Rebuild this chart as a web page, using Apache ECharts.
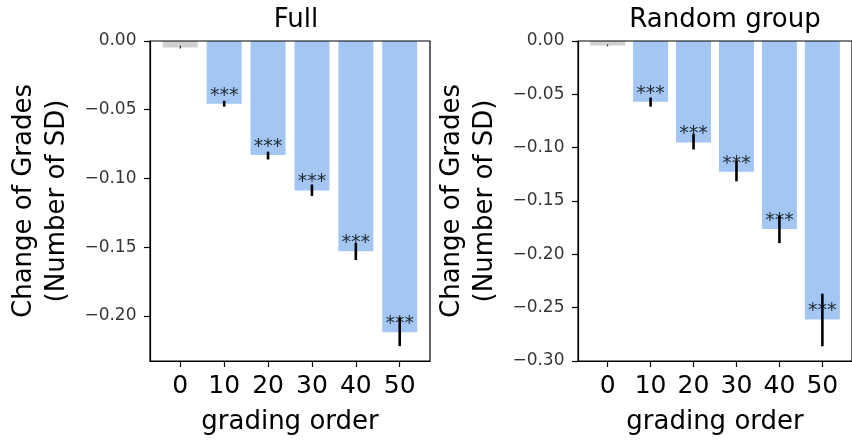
<!DOCTYPE html>
<html>
<head>
<meta charset="utf-8">
<script src="https://cdn.jsdelivr.net/npm/echarts@6/dist/echarts.min.js"></script>
<style>
  html, body { margin: 0; padding: 0; background: #fff; }
  #chart { width: 852px; height: 440px; }
</style>
</head>
<body>
<div id="chart"></div>
<script>
// grading order (x categories)
let order = [0, 10, 20, 30, 40, 50]
let stars = ['', '***', '***', '***', '***', '***']

// Full sample: mean and error bar ends
let fullMean = [-0.0048, -0.0456, -0.0829, -0.1087, -0.1530, -0.2118]
let fullLow = [-0.0055, -0.0477, -0.0862, -0.1127, -0.1593, -0.2220]
let fullHigh = [-0.0035, -0.0435, -0.0805, -0.1044, -0.1469, -0.2010]

// Random group: mean and error bar ends
let randMean = [-0.0043, -0.0570, -0.0952, -0.1226, -0.1762, -0.2610]
let randLow = [-0.0050, -0.0616, -0.1017, -0.1315, -0.1895, -0.2862]
let randHigh = [-0.0033, -0.0530, -0.0869, -0.1124, -0.1639, -0.2369]

// tick labels
let fullTicks = [0, -0.05, -0.10, -0.15, -0.20]
let randTicks = [0, -0.05, -0.10, -0.15, -0.20, -0.25, -0.30]

const FONT = 'DejaVu Sans'
const BLUE = '#a3c7f2'
const GREY = '#d0d0d0'
const X_MIN = -6.9
const X_MAX = 56.9

let myChart = echarts.init(document.getElementById('chart'))

function fmtY(v) {
  if (Math.abs(v) < 1e-9) return '0.00'
  return (v < 0 ? '\u2212' : '') + Math.abs(v).toFixed(2)
}

function xAxis(gi) {
  return {
    type: 'value', gridIndex: gi, min: X_MIN, max: X_MAX,
    name: 'grading order', nameLocation: 'middle', nameGap: 48,
    nameTextStyle: { fontFamily: FONT, fontSize: 26, color: '#000' },
    axisLine: { show: true, onZero: false, lineStyle: { color: '#000', width: 1.2 } },
    axisTick: { show: true, length: 6, customValues: order, lineStyle: { color: '#000', width: 1.2 } },
    axisLabel: { customValues: order, margin: 13, fontFamily: FONT, fontSize: 25, color: '#000' },
    splitLine: { show: false }
  }
}

function yAxis(gi, min, ticks) {
  return {
    type: 'value', gridIndex: gi, min: min, max: 0,
    name: 'Change of Grades\n(Number of SD)', nameLocation: 'middle', nameGap: 76,
    nameTextStyle: { fontFamily: FONT, fontSize: 26, color: '#000', lineHeight: 33 },
    axisLine: { show: true, onZero: false, lineStyle: { color: '#000', width: 1.2 } },
    axisTick: { show: true, length: 6, customValues: ticks, lineStyle: { color: '#000', width: 1.2 } },
    axisLabel: { show: false },
    splitLine: { show: false }
  }
}

function panelSeries(ax, mean, low, high, ticks) {
  return [
    {
      type: 'bar', xAxisIndex: ax, yAxisIndex: ax, barWidth: 35,
      data: order.map((o, i) => [o, mean[i]]),
      itemStyle: { color: p => p.dataIndex === 0 ? GREY : BLUE },
      silent: true
    },
    {
      type: 'custom', xAxisIndex: ax, yAxisIndex: ax, z: 3,
      data: order.map((o, i) => [o, low[i], high[i]]),
      encode: { x: 0, y: [1, 2] },
      renderItem: function (params, api) {
        let x = api.value(0)
        let p1 = api.coord([x, api.value(1)])
        let p2 = api.coord([x, api.value(2)])
        return {
          type: 'line',
          shape: { x1: p1[0], y1: p1[1], x2: p2[0], y2: p2[1] },
          style: { stroke: '#000', lineWidth: params.dataIndex === 0 ? 1 : 2.6 }
        }
      },
      silent: true
    },
    {
      // 显著性星号
      type: 'scatter', xAxisIndex: ax, yAxisIndex: ax, z: 4,
      symbolSize: 1, itemStyle: { color: 'rgba(0,0,0,0)' },
      data: order.map((o, i) => [o, mean[i]]),
      label: {
        show: true, position: 'inside', offset: [0, -8],
        fontFamily: FONT, fontSize: 19, color: '#000',
        formatter: p => stars[p.dataIndex]
      },
      silent: true
    },
    {
      // y 轴刻度文字
      type: 'scatter', xAxisIndex: ax, yAxisIndex: ax, z: 4, clip: false,
      symbolSize: 1, itemStyle: { color: 'rgba(0,0,0,0)' },
      data: ticks.map(t => [X_MIN, t]),
      label: {
        show: true, position: 'left', distance: 13,
        fontFamily: FONT, fontSize: 17, color: '#000',
        formatter: p => fmtY(ticks[p.dataIndex])
      },
      silent: true
    }
  ]
}

let option = {
  animation: false,
  backgroundColor: '#fff',
  title: [
    { text: 'Full', left: 291, top: 2, textAlign: 'center',
      textStyle: { fontFamily: FONT, fontSize: 26, fontWeight: 'normal', color: '#000' } },
    { text: 'Random group', left: 720, top: 2, textAlign: 'center',
      textStyle: { fontFamily: FONT, fontSize: 26, fontWeight: 'normal', color: '#000' } }
  ],
  grid: [
    { left: 150, top: 41, width: 280, height: 325, show: true, z: 5,
      borderColor: '#000', borderWidth: 1.2, backgroundColor: 'transparent' },
    { left: 578, top: 41, width: 280, height: 325, show: true, z: 5,
      borderColor: '#000', borderWidth: 1.2, backgroundColor: 'transparent' }
  ],
  xAxis: [xAxis(0), xAxis(1)],
  yAxis: [yAxis(0, -0.2328, fullTicks), yAxis(1, -0.30, randTicks)],
  series: [].concat(
    panelSeries(0, fullMean, fullLow, fullHigh, fullTicks),
    panelSeries(1, randMean, randLow, randHigh, randTicks)
  )
}

myChart.setOption(option)
</script>
</body>
</html>
